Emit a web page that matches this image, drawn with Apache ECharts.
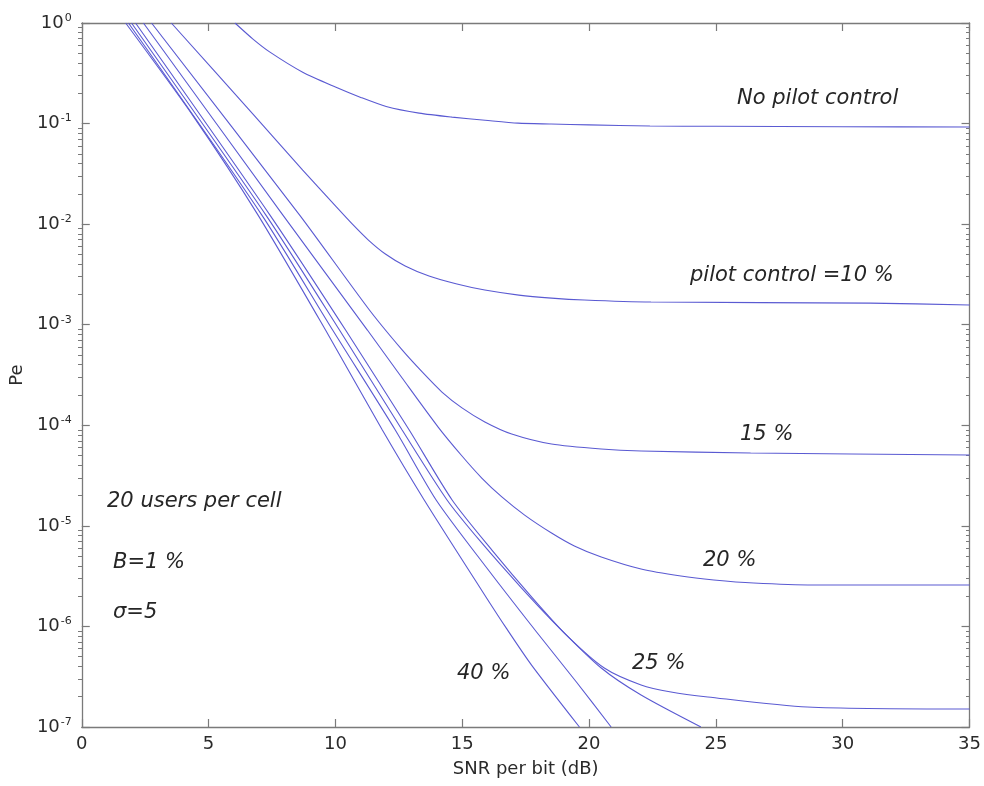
<!DOCTYPE html>
<html><head><meta charset="utf-8">
<script src="https://cdn.jsdelivr.net/npm/echarts@6/dist/echarts.min.js"></script>
<style>html,body{margin:0;padding:0;background:#fff}#c{width:984px;height:786px}</style>
</head><body><div id="c"></div>
<script>
// ---- tick labels ----
const xTicks = [0, 5, 10, 15, 20, 25, 30, 35];
const yExponents = [0, -1, -2, -3, -4, -5, -6, -7];

// ---- series values (SNR per bit in dB, Pe) ----
const snrNone = [6.04, 6.75, 7.42, 8.71, 10.0, 11.0, 12.0, 13.3, 14.6, 15.9, 17.2, 18.5, 20.0, 22.4, 25.0, 30.0, 35.0];
const peNone  = [1.0, 0.692, 0.513, 0.324, 0.231, 0.182, 0.148, 0.127, 0.116, 0.108, 0.101, 0.099, 0.097, 0.0946, 0.094, 0.093, 0.0925];

const snr10 = [3.53, 6.75, 8.71, 10.01, 10.67, 11.30, 11.97, 12.75, 13.69, 14.79, 15.89, 17.23, 18.52, 19.81, 22.44, 31.08, 35.0];
const pe10  = [1.0, 0.124, 0.0345, 0.0151, 1.0e-2, 6.95e-3, 5.05e-3, 3.84e-3, 3.05e-3, 2.54e-3, 2.21e-3, 1.97e-3, 1.84e-3, 1.76e-3, 1.68e-3, 1.64e-3, 1.57e-3];

const snr15 = [2.75, 8.59, 11.34, 12.63, 13.42, 14.20, 14.99, 15.89, 16.95, 18.52, 20.48, 22.05, 26.37, 35.0];
const pe15  = [1.0, 1.23e-2, 1.40e-3, 5.61e-4, 3.39e-4, 2.14e-4, 1.49e-4, 1.08e-4, 8.19e-5, 6.51e-5, 5.81e-5, 5.55e-5, 5.3e-5, 5.06e-5];

const snr20 = [2.43, 7.93, 11.26, 12.63, 14.05, 14.99, 15.77, 16.56, 17.46, 18.52, 19.42, 20.48, 22.05, 23.62, 24.92, 26.49, 28.84, 35.0];
const pe20  = [1.0, 1.23e-2, 8.85e-4, 2.95e-4, 9.6e-5, 4.95e-5, 2.99e-5, 1.94e-5, 1.28e-5, 8.49e-6, 6.31e-6, 4.90e-6, 3.72e-6, 3.17e-6, 2.90e-6, 2.7e-6, 2.58e-6, 2.58e-6];

const snr25 = [2.12, 7.42, 10.40, 12.91, 14.60, 16.17, 17.74, 19.11, 20.60, 22.05, 23.23, 24.68, 28.60, 35.0];
const pe25  = [1.0, 1.23e-2, 8.85e-4, 8.97e-5, 1.81e-5, 5.75e-6, 1.96e-6, 8.2e-7, 3.86e-7, 2.62e-7, 2.23e-7, 1.99e-7, 1.58e-7, 1.51e-7];

const snr30 = [1.96, 7.26, 10.16, 12.63, 14.40, 15.77, 17.34, 18.83, 20.48, 22.05, 24.41];
const pe30  = [1.0, 1.23e-2, 8.85e-4, 8.97e-5, 1.81e-5, 6.76e-6, 2.41e-6, 9.64e-7, 3.86e-7, 2.08e-7, 1.0e-7];

const snr35 = [1.84, 7.10, 9.89, 12.36, 13.97, 15.97, 17.93, 19.50, 20.87];
const pe35  = [1.0, 1.23e-2, 8.85e-4, 8.97e-5, 1.81e-5, 3.81e-6, 8.8e-7, 2.80e-7, 1.0e-7];

const snr40 = [1.73, 4.40, 6.95, 9.61, 11.85, 13.50, 15.77, 16.75, 17.74, 19.62];
const pe40  = [1.0, 1.18e-1, 1.23e-2, 8.85e-4, 8.97e-5, 1.81e-5, 2.28e-6, 9.5e-7, 4.1e-7, 1.0e-7];

const seriesNames = ['No pilot control', '10 %', '15 %', '20 %', '25 %', '30 %', '35 %', '40 %'];
const seriesX = [snrNone, snr10, snr15, snr20, snr25, snr30, snr35, snr40];
const seriesY = [peNone, pe10, pe15, pe20, pe25, pe30, pe35, pe40];

// ---- build ----
const FONT = '"DejaVu Sans", "Liberation Sans", sans-serif';
const AXIS_COLOR = '#7a7a7a';
const LINE_COLOR = '#5a5ad2';
const xMin = xTicks[0], xMax = xTicks[xTicks.length - 1];
const yMaxExp = Math.max(...yExponents), yMinExp = Math.min(...yExponents);

const minorLog = [];
for (let e = yMinExp; e < yMaxExp; e++) {
  for (let m = 2; m <= 9; m++) minorLog.push(e + Math.log10(m));
}

function pairs(xs, ys) { return xs.map((x, i) => [x, ys[i]]); }

const series = seriesNames.map((name, i) => ({
  name: name,
  type: 'line',
  xAxisIndex: 0,
  yAxisIndex: 0,
  data: pairs(seriesX[i], seriesY[i]),
  showSymbol: false,
  symbol: 'none',
  smooth: 0.25,
  clip: true,
  silent: true,
  lineStyle: { color: LINE_COLOR, width: 1.1 }
}));

function yLabel(v) {
  const e = Math.round(Math.log10(v));
  return '{a|10}{s|' + e + '}';
}

const baseAxisLine = { show: true, onZero: false, lineStyle: { color: AXIS_COLOR, width: 1.3 } };
const majorTick = { show: true, inside: true, length: 8, lineStyle: { color: AXIS_COLOR, width: 1.2 } };
const minorTickAxis = (pos) => ({
  type: 'value', gridIndex: 1, position: pos,
  min: yMinExp, max: yMaxExp,
  axisLine: { show: false, onZero: false },
  axisTick: { show: true, inside: true, length: 4, customValues: minorLog,
              lineStyle: { color: AXIS_COLOR, width: 1 } },
  axisLabel: { show: false }, splitLine: { show: false }
});

const option = {
  animation: false,
  backgroundColor: '#fff',
  grid: [
    { left: 78, top: 23, width: 892, height: 704 },
    { left: 78, top: 23, width: 892, height: 704 }
  ],
  xAxis: [
    {
      type: 'value', gridIndex: 0, position: 'bottom',
      min: xMin, max: xMax, interval: xTicks[1] - xTicks[0],
      axisLine: baseAxisLine, axisTick: majorTick,
      splitLine: { show: false },
      axisLabel: { fontFamily: FONT, fontSize: 18, color: '#2a2a2a', margin: 8 },
      name: 'SNR per bit (dB)', nameLocation: 'middle', nameGap: 33,
      nameTextStyle: { fontFamily: FONT, fontSize: 18, color: '#2a2a2a' }
    },
    {
      type: 'value', gridIndex: 0, position: 'top',
      min: xMin, max: xMax, interval: xTicks[1] - xTicks[0],
      axisLine: baseAxisLine, axisTick: majorTick,
      splitLine: { show: false }, axisLabel: { show: false }
    },
    {
      type: 'value', gridIndex: 1, position: 'bottom', min: xMin, max: xMax,
      axisLine: { show: false, onZero: false }, axisTick: { show: false },
      axisLabel: { show: false }, splitLine: { show: false }
    }
  ],
  yAxis: [
    {
      type: 'log', logBase: 10, gridIndex: 0, position: 'left',
      min: Math.pow(10, yMinExp), max: Math.pow(10, yMaxExp),
      axisLine: baseAxisLine, axisTick: majorTick,
      splitLine: { show: false },
      axisLabel: {
        margin: 10,
        formatter: yLabel,
        rich: {
          a: { fontFamily: FONT, fontSize: 18, color: '#2a2a2a' },
          s: { fontFamily: FONT, fontSize: 11, color: '#2a2a2a', padding: [0, 0, 10, 1] }
        }
      },
      name: 'Pe', nameLocation: 'middle', nameGap: 52,
      nameTextStyle: { fontFamily: FONT, fontSize: 18, color: '#2a2a2a' }
    },
    {
      type: 'log', logBase: 10, gridIndex: 0, position: 'right',
      min: Math.pow(10, yMinExp), max: Math.pow(10, yMaxExp),
      axisLine: baseAxisLine, axisTick: majorTick,
      splitLine: { show: false }, axisLabel: { show: false }
    },
    minorTickAxis('left'),
    minorTickAxis('right')
  ],
  series: series,
  graphic: [
    ['No pilot control', 737, 99],
    ['pilot control =10 %', 690, 276],
    ['15 %', 740, 435],
    ['20 %', 703, 561],
    ['25 %', 632, 664],
    ['40 %', 457, 674],
    ['20 users per cell', 107, 502],
    ['B=1 %', 113, 563],
    ['\u03C3=5', 113, 613]
  ].map(t => ({
    type: 'text', x: t[1], y: t[2], silent: true,
    style: { text: t[0], font: 'italic 21px ' + FONT, fill: '#262626', verticalAlign: 'middle', align: 'left' }
  }))
};

const chart = echarts.init(document.getElementById('c'), null, { renderer: 'canvas' });
chart.setOption(option);
</script>
</body></html>
